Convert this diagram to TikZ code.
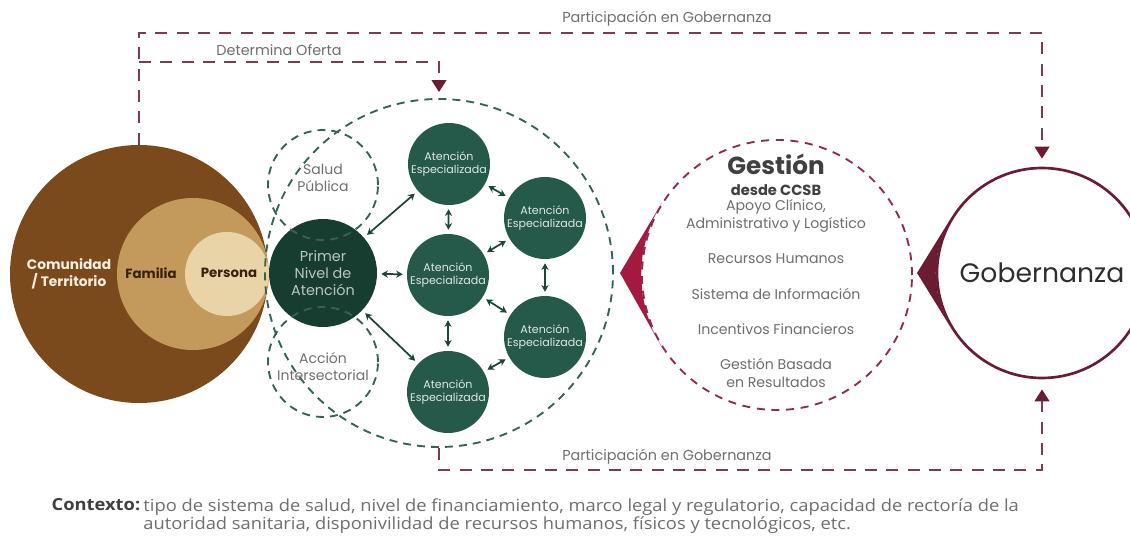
\documentclass[tikz,border=0pt]{standalone}
\usepackage{fontspec}
\setmainfont{Poppins}
\newfontfamily\ctxfont[FakeStretch=1.1]{Open Sans}
\usetikzlibrary{arrows.meta,positioning}

\definecolor{brownA}{HTML}{7A4A1C}
\definecolor{brownB}{HTML}{C49A5C}
\definecolor{brownC}{HTML}{E9D4A8}
\definecolor{greenA}{HTML}{173D31}
\definecolor{greenB}{HTML}{255A4A}
\definecolor{greenD}{HTML}{356353}
\definecolor{wine}{HTML}{6B1C32}
\definecolor{wineD}{HTML}{7E3A4E}
\definecolor{crimson}{HTML}{A3193F}
\definecolor{crimsonD}{HTML}{8F2B4C}
\definecolor{txtgray}{HTML}{6E6E6E}

\begin{document}
\begin{tikzpicture}[x=0.75pt,y=-0.75pt,
    every text node part/.style={align=center},
    ring/.style={circle,inner sep=0pt},
    atencion/.style={ring,fill=greenB,minimum size=61.5pt,text=white!85!greenB,font=\fontsize{8.3}{10}\selectfont},
    greendash/.style={draw=greenD,line width=1.4pt,dash pattern=on 6pt off 4.5pt},
    flow/.style={draw=wineD,line width=1.5pt,dash pattern=on 9pt off 7pt,-{Triangle[width=11pt,length=9pt,color=wine]}},
    link/.style={{Stealth[length=5pt,width=5.5pt]}-{Stealth[length=5pt,width=5.5pt]},draw=greenA!70!greenB,line width=1.3pt,shorten >=3pt,shorten <=3pt},
    flowlabel/.style={text=txtgray,font=\fontsize{10.8}{12}\selectfont},
    gestlabel/.style={text=txtgray,font=\fontsize{10.6}{13.5}\selectfont}]

    \useasboundingbox (0,0) rectangle (1130,538);

    % persona, familia, comunidad
    \node[ring,fill=brownA,minimum size=193.5pt] (comunidad) at (139,274) {};
    \node[ring,fill=brownB,minimum size=114pt] (familia) at (193,274) {};
    \node[ring,fill=brownC,minimum size=63pt] (persona) at (227,274) {};

    \node[text=brownC!40!white,font=\bfseries\fontsize{10.3}{13}\selectfont] (comlabel) at (69,274) {Comunidad \\ / Territorio};
    \node[text=brownA!45!black,font=\bfseries\fontsize{10}{13}\selectfont] (famlabel) at (151,273) {Familia};
    \node[text=brownA!45!black,font=\bfseries\fontsize{10}{13}\selectfont] (perlabel) at (229,273) {Persona};

    % red de atencion
    \node[ring,greendash,minimum size=261pt] (red) at (439,273) {};
    \node[ring,fill=greenA,minimum size=81pt,text=white!70!greenA,font=\fontsize{10.8}{12.8}\selectfont] (primer) at (323,273) {Primer \\ Nivel de \\ Atención};
    \node[ring,greendash,minimum size=82.5pt] (salud) at (323,185) {};
    \node[ring,greendash,minimum size=82.5pt] (accion) at (323,362) {};
    \node[text=txtgray,font=\fontsize{10.5}{12.8}\selectfont] (saludlabel) at (323,178) {Salud \\ Pública};
    \node[text=txtgray,font=\fontsize{10.5}{12.8}\selectfont] (accionlabel) at (323,367) {Acción \\ Intersectorial};

    \node[atencion] (at1) at (449,164) {Atención \\ Especializada};
    \node[atencion] (at2) at (545,218) {Atención \\ Especializada};
    \node[atencion] (at3) at (448,275) {Atención \\ Especializada};
    \node[atencion] (at4) at (545,337) {Atención \\ Especializada};
    \node[atencion] (at5) at (448,392) {Atención \\ Especializada};

    \foreach \from/\to in {primer/at1,primer/at3,primer/at5,at1/at3,at3/at5,at1/at2,at2/at3,at2/at4,at3/at4,at4/at5}
    \draw[link] (\from) to (\to);

    % gestion
    \node[ring,fill=white,draw=crimsonD,line width=1.4pt,dash pattern=on 6pt off 5pt,minimum size=202.5pt] (gestion) at (777,275) {};
    \coordinate (gtip) at (620,273);
    \fill[crimson] (gestion.148) -- (gtip) -- (gestion.212) \foreach \t in {204,196,188,180,172,164,156} {-- (gestion.\t)} -- cycle;

    \node[text=black!75,font=\bfseries\fontsize{18.5}{22}\selectfont] (gesttitle) at (776,164) {Gestión};
    \node[text=black!75,font=\bfseries\fontsize{11}{13}\selectfont] (gestsub) at (776,190) {desde CCSB};
    \node[gestlabel] (apoyo) at (776,215.5) {Apoyo Clínico, \\ Administrativo y Logístico};
    \node[gestlabel] (rrhh) at (776,259) {Recursos Humanos};
    \node[gestlabel] (sistema) at (776,294) {Sistema de Información};
    \node[gestlabel] (incentivos) at (776,329) {Incentivos Financieros};
    \node[gestlabel] (resultados) at (776,373) {Gestión Basada \\ en Resultados};

    % gobernanza
    \node[ring,draw=wine,line width=2pt,minimum size=157.5pt,text=black!82,font=\fontsize{20}{24}\selectfont] (gob) at (1042,273) {Gobernanza};
    \coordinate (btip) at (917,273);
    \fill[wine] (gob.150) -- (btip) -- (gob.210) \foreach \t in {200,190,180,170,160} {-- (gob.\t)} -- cycle;

    % flujos
    \coordinate (topright) at (1042,33);
    \coordinate (ofertastart) at (139,62);
    \coordinate (botright) at (1042,470);
    \draw[flow,shorten >=6pt] (comunidad.north) |- (topright) -- (gob.north);
    \draw[flow,shorten >=4.5pt] (ofertastart) -| (red.north);
    \draw[flow,shorten >=7.5pt] (red.south) |- (botright) -- (gob.south);

    \node[flowlabel] (partop) at (667,19) {Participación en Gobernanza};
    \node[flowlabel] (oferta) at (279,50) {Determina Oferta};
    \node[flowlabel] (parbot) at (667,457) {Participación en Gobernanza};

    % contexto
    \node[anchor=west,inner sep=1pt,text=black!75,font=\ctxfont\bfseries\fontsize{12.5}{13.5}\selectfont] (ctxlabel) at (50,505) {Contexto:};
    \node[anchor=north west,every text node part/.style={align=left},inner sep=1pt,text=txtgray,font=\ctxfont\fontsize{12.5}{13.5}\selectfont] (ctxtext) at (ctxlabel.north east) {tipo de sistema de salud, nivel de financiamiento, marco legal y regulatorio, capacidad de rectoría de la \\ autoridad sanitaria, disponivilidad de recursos humanos, físicos y tecnológicos, etc.};
\end{tikzpicture}
\end{document}
